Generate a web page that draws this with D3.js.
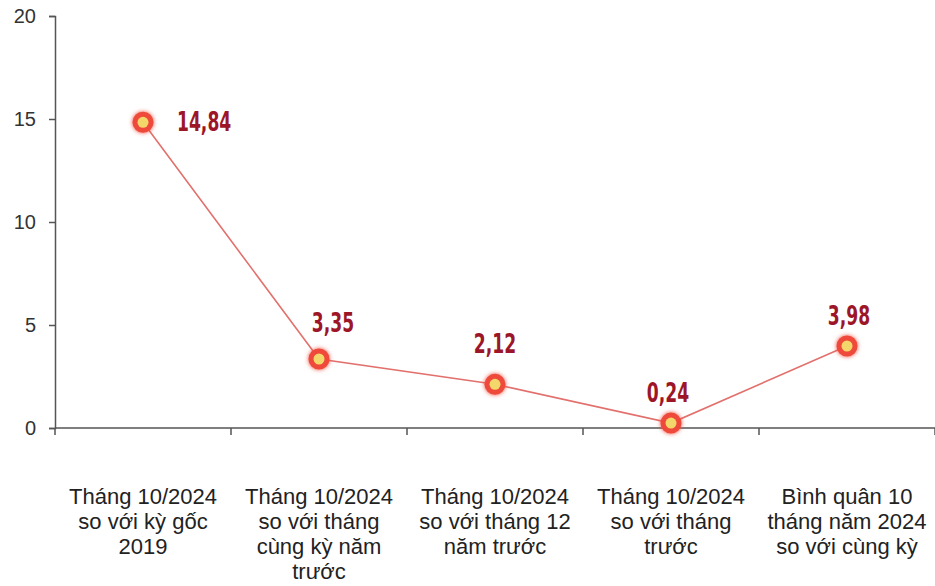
<!DOCTYPE html>
<html>
<head>
<meta charset="utf-8">
<script src="https://cdn.jsdelivr.net/npm/d3@7"></script>
<style>
  body { margin: 0; background: #fff; }
  svg { display: block; }
</style>
</head>
<body>
<svg id="chart" width="935" height="586"></svg>
<script>
const categories = [
  ['Tháng 10/2024', 'so với kỳ gốc', '2019'],
  ['Tháng 10/2024', 'so với tháng', 'cùng kỳ năm', 'trước'],
  ['Tháng 10/2024', 'so với tháng 12', 'năm trước'],
  ['Tháng 10/2024', 'so với tháng', 'trước'],
  ['Bình quân 10', 'tháng năm 2024', 'so với cùng kỳ']
];
const values = [14.84, 3.35, 2.12, 0.24, 3.98];
const valueLabels = ['14,84', '3,35', '2,12', '0,24', '3,98'];
const yTicks = [0, 5, 10, 15, 20];

const svg = d3.select('#chart');
const plotLeft = 55;
const plotRight = 935;
const plotTop = 16;
const plotBottom = 428;

const x = d3.scaleBand().domain(d3.range(values.length)).range([plotLeft, plotRight]);
const y = d3.scaleLinear().domain([0, 20]).range([plotBottom, plotTop]);

// glow for markers
const defs = svg.append('defs');
const glow = defs.append('filter').attr('id', 'glow')
  .attr('x', '-50%').attr('y', '-50%').attr('width', '200%').attr('height', '200%');
glow.append('feGaussianBlur').attr('stdDeviation', 2).attr('result', 'b');
const merge = glow.append('feMerge');
merge.append('feMergeNode').attr('in', 'b');
merge.append('feMergeNode').attr('in', 'SourceGraphic');

// y axis
const yAxis = svg.append('g')
  .attr('transform', `translate(${plotLeft},0)`)
  .call(d3.axisLeft(y).tickValues(yTicks).tickSize(6).tickPadding(13));
yAxis.select('.domain').attr('stroke', '#555').attr('stroke-width', 1.5);
yAxis.selectAll('.tick line').attr('stroke', '#555').attr('stroke-width', 1.5);
yAxis.selectAll('.tick text')
  .attr('fill', '#333')
  .style('font-family', 'Liberation Sans, Arial, sans-serif')
  .style('font-size', '20px');

// x axis line with boundary ticks
const xAxis = svg.append('g');
xAxis.append('line')
  .attr('x1', plotLeft).attr('x2', plotRight)
  .attr('y1', plotBottom).attr('y2', plotBottom)
  .attr('stroke', '#555').attr('stroke-width', 1.5);
const bounds = d3.range(values.length + 1).map(i => i < values.length ? x(i) : plotRight);
xAxis.selectAll('line.tk').data(bounds).join('line')
  .attr('class', 'tk')
  .attr('x1', d => d).attr('x2', d => d)
  .attr('y1', plotBottom).attr('y2', plotBottom + 7)
  .attr('stroke', '#555').attr('stroke-width', 1.5);

// category labels
const catText = svg.append('g').selectAll('text').data(categories).join('text')
  .attr('x', (d, i) => x(i) + x.bandwidth() / 2)
  .attr('y', 504)
  .attr('text-anchor', 'middle')
  .attr('fill', '#222')
  .style('font-family', 'Liberation Sans, Arial, sans-serif')
  .style('font-size', '22px');
catText.selectAll('tspan').data(d => d).join('tspan')
  .attr('x', function () { return d3.select(this.parentNode).attr('x'); })
  .attr('dy', (d, i) => i === 0 ? 0 : 25)
  .text(d => d);

// line
const cx = i => x(i) + x.bandwidth() / 2;
const line = d3.line().x((d, i) => cx(i)).y(d => y(d));
svg.append('path').datum(values)
  .attr('d', line)
  .attr('fill', 'none')
  .attr('stroke', '#e2706c')
  .attr('stroke-width', 1.6);

// markers
const pts = svg.append('g').selectAll('g').data(values).join('g')
  .attr('transform', (d, i) => `translate(${cx(i)},${y(d)})`);
pts.append('circle').attr('r', 10.5).attr('fill', '#ee4a3a').attr('filter', 'url(#glow)');
pts.append('circle').attr('r', 5.5).attr('fill', '#f4d76a');

// value labels (narrow condensed look via horizontal scale)
const labelOffsets = [[34, 9], [14, -27], [0, -31], [-3, -21], [2, -21]];
svg.append('g').selectAll('text').data(values).join('text')
  .attr('transform', (d, i) =>
    `translate(${cx(i) + labelOffsets[i][0]},${y(d) + labelOffsets[i][1]}) scale(0.66,1)`)
  .attr('text-anchor', (d, i) => i === 0 ? 'start' : 'middle')
  .attr('fill', '#9c1628')
  .style('font-family', 'DejaVu Sans, sans-serif')
  .style('font-weight', 'bold')
  .style('font-size', '26px')
  .text((d, i) => valueLabels[i]);
</script>
</body>
</html>
